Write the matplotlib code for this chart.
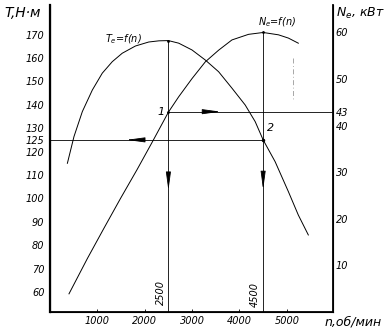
import matplotlib.pyplot as plt

# данные
n_T = [367, 506, 683, 894, 1104, 1315, 1525, 1805, 2085, 2300, 2500, 2717, 2998, 3279, 3560,
       3841, 4121, 4332, 4500, 4753, 5033, 5243, 5454]
T_e = [115.0, 126.4, 137.1, 146.3, 153.5, 158.4, 162.0, 165.1, 166.8, 167.3, 167.4, 166.3, 163.4,
       159.1, 154.1, 147.1, 139.9, 132.8, 125.0, 115.7, 102.9, 92.9, 84.4]

n_N = [401, 790, 1140, 1490, 1840, 2160, 2500, 2717, 2998, 3279, 3560, 3841, 4191, 4500,
       4823, 5033, 5243]
N_e = [3.9, 11.5, 18.0, 24.4, 30.6, 36.5, 42.9, 46.2, 50.1, 53.7, 56.2, 58.4, 59.6, 60.0,
       59.5, 58.8, 57.7]

n1, n2 = 2500, 4500
T1 = 167.4
T2 = 125
N1 = 43
N2 = 60.0

T_ticks = [60, 70, 80, 90, 100, 110, 120, 125, 130, 140, 150, 160, 170]
N_ticks = [10, 20, 30, 40, 43, 50, 60]
n_ticks = [1000, 2000, 3000, 4000, 5000]

fnt = ['Liberation Sans Narrow', 'DejaVu Sans']
plt.rcParams['font.family'] = fnt

fig = plt.figure(figsize=(3.87, 3.32), dpi=100)
ax = fig.add_axes([50/387, 1-312/332, 283/387, 307/332])
ax2 = ax.twinx()

ax.set_xlim(0, 5975)
ax.set_ylim(51.5, 182.6)
ax2.set_ylim(0, 65.9)

lw = 0.7
ax.plot(n_T, T_e, color='black', lw=lw)
ax2.plot(n_N, N_e, color='black', lw=lw)

# вспомогательные линии
ax.plot([n1, n1], [T1, 51.5], color='black', lw=0.6)
ax2.plot([n2, n2], [N2, 0], color='black', lw=0.6)
ax.plot([0, n2], [T2, T2], color='black', lw=0.6)
ax2.plot([n1, 5975], [N1, N1], color='black', lw=0.6)
ax2.plot([5140, 5140], [54.5, 45.5], color='#999999', lw=0.6, ls=(0, (6, 3, 1, 3)))

# стрелки
ap = dict(arrowstyle='-|>,head_length=1.1,head_width=0.15', color='black', lw=0.6)
ax.annotate('', xy=(1560, T2), xytext=(1800, T2), arrowprops=ap)
ax2.annotate('', xy=(3660, N1), xytext=(3400, N1), arrowprops=ap)
ax.annotate('', xy=(n1, 102.3), xytext=(n1, 108), arrowprops=ap)
ax2.annotate('', xy=(n2, 25.7), xytext=(n2, 28.5), arrowprops=ap)

ax.plot([n1], [T1], 'k.', ms=2)
ax2.plot([n1, n2], [N1, N2], 'k.', ms=2)
ax.plot([n2], [T2], 'k.', ms=3)

ax.text(n1 - 80, 137, '1', fontsize=8, style='italic', ha='right', va='center')
ax.text(n2 + 80, 130, '2', fontsize=8, style='italic', ha='left', va='center')
ax.text(1170, 168, r'$T_e$=f(n)', fontsize=7, style='italic', ha='left', va='center')
ax2.text(4800, 62.2, r'$N_e$=f(n)', fontsize=7, style='italic', ha='center', va='center')
ax.text(n1 - 60, 60, '2500', fontsize=7, style='italic', rotation=90, ha='right', va='center')
ax.text(n2 - 60, 59, '4500', fontsize=7, style='italic', rotation=90, ha='right', va='center')

# оси
ax.spines['top'].set_visible(False)
ax2.spines['top'].set_visible(False)
ax.spines['left'].set_linewidth(1.6)
ax.spines['bottom'].set_linewidth(1.3)
ax2.spines['right'].set_linewidth(1.3)

ax.set_xticks(n_ticks)
ax.set_xticklabels([str(v) for v in n_ticks], fontsize=7, style='italic')
ax.set_yticks(T_ticks)
ax.set_yticklabels([str(v) for v in T_ticks], fontsize=7, style='italic')
ax2.set_yticks(N_ticks)
ax2.set_yticklabels([str(v) for v in N_ticks], fontsize=7, style='italic')
ax.tick_params(axis='x', direction='in', length=2, width=0.6, pad=3)
ax.tick_params(axis='y', direction='in', length=0, pad=4)
ax2.tick_params(axis='y', direction='in', length=0, pad=2)

fig.text(4/387, 1-13/332, 'T,H·м', fontsize=10, style='italic', va='center', ha='left')
fig.text(336/387, 1-13/332, r'$N_e$, кВт', fontsize=9, style='italic', va='center', ha='left')
fig.text(325/387, 1-322/332, 'n,об/мин', fontsize=9, style='italic', va='center', ha='left')

fig.savefig('out.png', dpi=100)
